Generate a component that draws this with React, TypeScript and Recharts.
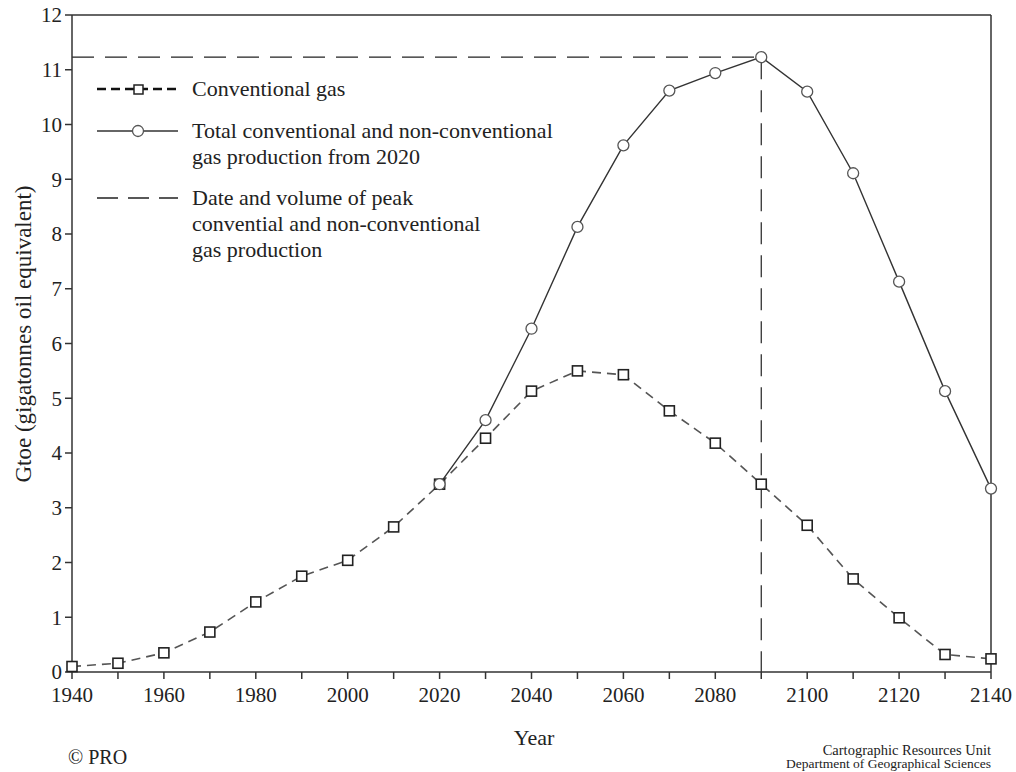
import React from 'react';
import { LineChart, Line, XAxis, YAxis, ReferenceLine } from 'recharts';

const years = [1940, 1950, 1960, 1970, 1980, 1990, 2000, 2010, 2020, 2030, 2040, 2050, 2060, 2070, 2080, 2090, 2100, 2110, 2120, 2130, 2140];
const conventional = [0.1, 0.16, 0.35, 0.73, 1.28, 1.75, 2.04, 2.65, 3.43, 4.27, 5.13, 5.5, 5.43, 4.77, 4.18, 3.43, 2.68, 1.7, 0.99, 0.32, 0.24];
const total = [null, null, null, null, null, null, null, null, 3.43, 4.6, 6.27, 8.13, 9.62, 10.62, 10.94, 11.23, 10.6, 9.11, 7.13, 5.13, 3.35];
const yTicks = [0, 1, 2, 3, 4, 5, 6, 7, 8, 9, 10, 11, 12];
const peakYear = 2090;
const peakValue = 11.23;

const data = years.map((y, i) => ({ year: y, conventional: conventional[i], total: total[i] }));

const FONT = "'Liberation Serif', 'Times New Roman', serif";

const SquareDot = (props: any) => {
  const { cx, cy, index } = props;
  if (cx == null || cy == null) return <g key={`s${index}`} />;
  return <rect key={`s${index}`} x={cx - 5} y={cy - 5} width={10} height={10} fill="#fff" stroke="#222" strokeWidth={1.6} />;
};

const CircleDot = (props: any) => {
  const { cx, cy, index, value } = props;
  if (cx == null || cy == null || value == null) return <g key={`c${index}`} />;
  return <circle key={`c${index}`} cx={cx} cy={cy} r={5.5} fill="#fff" stroke="#555" strokeWidth={1.3} />;
};

const EmptyTick = () => <g />;

export default function App() {
  return (
    <div style={{ position: 'absolute', left: 0, top: 0, width: 1016, height: 772, background: '#fff' }}>
      <LineChart width={1016} height={772} data={data} margin={{ top: 15, right: 0, left: 0, bottom: 0 }}>
        <XAxis
          dataKey="year"
          type="number"
          domain={[1940, 2140]}
          ticks={years}
          interval={0}
          tickFormatter={(v: number) => (v % 20 === 0 ? String(v) : '')}
          height={100}
          tickSize={7}
          tickMargin={8}
          stroke="#333"
          strokeWidth={1.5}
          tick={{ fontFamily: FONT, fontSize: 21, fill: '#222' }}
        />
        <YAxis
          yAxisId="left"
          orientation="left"
          type="number"
          domain={[0, 12]}
          ticks={yTicks}
          interval={0}
          width={72}
          tickSize={7}
          tickMargin={3}
          stroke="#333"
          strokeWidth={1.5}
          tick={{ fontFamily: FONT, fontSize: 21, fill: '#222' }}
        />
        <YAxis
          yAxisId="right"
          orientation="right"
          type="number"
          domain={[0, 12]}
          ticks={yTicks}
          interval={0}
          width={25}
          tickSize={7}
          stroke="#333"
          strokeWidth={1.5}
          tick={EmptyTick}
        />
        <ReferenceLine yAxisId="left" y={12} stroke="#333" strokeWidth={1.5} ifOverflow="visible" />
        <ReferenceLine
          yAxisId="left"
          segment={[{ x: 1940, y: peakValue }, { x: peakYear, y: peakValue }]}
          stroke="#222"
          strokeWidth={1.2}
          strokeDasharray="22 11"
        />
        <ReferenceLine
          yAxisId="left"
          segment={[{ x: peakYear, y: peakValue }, { x: peakYear, y: 0 }]}
          stroke="#222"
          strokeWidth={1.2}
          strokeDasharray="22 11"
        />
        <Line
          yAxisId="left"
          type="linear"
          dataKey="conventional"
          stroke="#555"
          strokeWidth={1.6}
          strokeDasharray="9 6"
          dot={SquareDot}
          activeDot={false}
          isAnimationActive={false}
        />
        <Line
          yAxisId="left"
          type="linear"
          dataKey="total"
          stroke="#333"
          strokeWidth={1.4}
          dot={CircleDot}
          activeDot={false}
          connectNulls={false}
          isAnimationActive={false}
        />
      </LineChart>
      <svg width={1016} height={772} style={{ position: 'absolute', left: 0, top: 0, pointerEvents: 'none' }}>
        <g fontFamily={FONT} fill="#222">
          <line x1={97} y1={89} x2={178} y2={89} stroke="#111" strokeWidth={2.6} strokeDasharray="9 5" />
          <rect x={134} y={85} width={9} height={9} fill="#fff" stroke="#222" strokeWidth={1.5} />
          <text x={192} y={96} fontSize={22}>Conventional gas</text>

          <line x1={97} y1={131} x2={178} y2={131} stroke="#333" strokeWidth={1.4} />
          <circle cx={138} cy={131} r={5.5} fill="#fff" stroke="#555" strokeWidth={1.3} />
          <text x={192} y={138} fontSize={22}>Total conventional and non-conventional</text>
          <text x={192} y={164} fontSize={22}>gas production from 2020</text>

          <line x1={97} y1={198} x2={178} y2={198} stroke="#222" strokeWidth={1.3} strokeDasharray="21 10" />
          <text x={192} y={205} fontSize={22}>Date and volume of peak</text>
          <text x={192} y={231} fontSize={22}>convential and non-conventional</text>
          <text x={192} y={257} fontSize={22}>gas production</text>

          <text x={0} y={0} fontSize={23} textAnchor="middle" transform="translate(31,334) rotate(-90)">Gtoe (gigatonnes oil equivalent)</text>
          <text x={534} y={745} fontSize={22} textAnchor="middle">Year</text>
          <text x={68} y={764} fontSize={20}>© PRO</text>
          <text x={991} y={755} fontSize={14.5} textAnchor="end">Cartographic Resources Unit</text>
          <text x={991} y={768} fontSize={13.5} textAnchor="end">Department of Geographical Sciences</text>
        </g>
      </svg>
    </div>
  );
}
